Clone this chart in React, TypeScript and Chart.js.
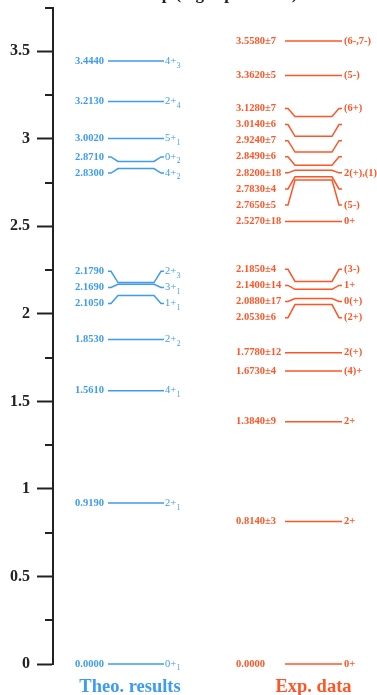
import React, { useEffect, useRef } from "react";
import { Chart, registerables } from "chart.js";

Chart.register(...registerables);

// ---------------- data ----------------
const theoEnergies = [0.0, 0.919, 1.561, 1.853, 2.105, 2.169, 2.179, 2.83, 2.871, 3.002, 3.213, 3.444];
const theoSpins = ["0+", "2+", "4+", "2+", "1+", "3+", "2+", "4+", "0+", "5+", "2+", "4+"];
const theoIndices = ["1", "1", "1", "2", "1", "1", "3", "2", "2", "1", "4", "3"];

const expEnergies = [0.0, 0.814, 1.384, 1.673, 1.778, 2.053, 2.088, 2.14, 2.185, 2.527, 2.765, 2.783, 2.82, 2.849, 2.924, 3.014, 3.128, 3.362, 3.558];
const expErrors = ["", "3", "9", "4", "12", "6", "17", "14", "4", "18", "5", "4", "18", "6", "7", "6", "7", "5", "7"];
const expSpins = ["0+", "2+", "2+", "(4)+", "2(+)", "(2+)", "0(+)", "1+", "(3-)", "0+", "(5-)", "", "2(+),(1)", "", "", "", "(6+)", "(5-)", "(6-,7-)"];

const yTickValues = [0, 0.5, 1, 1.5, 2, 2.5, 3, 3.5];
const groupNames = ["Theo. results", "Exp. data"];
const titleText = "Exp (high spin levels)";

// ---------------- style ----------------
const BLUE = "#3d9bf2";
const ORANGE = "#ff5526";
const AXIS = "#222222";
const SERIF = '"Liberation Serif", "DejaVu Serif", serif';
const LABEL_GAP = 0.092; // minimum label spacing (MeV)
const STUB = 3;
const SLANT = 7;
const THEO_X0 = 55;
const THEO_X1 = 111;
const EXP_X0 = 232;
const EXP_X1 = 289;

function spreadLabels(values: number[], gap: number): number[] {
  let clusters: number[][] = values.map((_, i) => [i]);
  const positions = (c: number[]) => {
    const m = c.reduce((s, i) => s + values[i], 0) / c.length;
    return c.map((_, k) => m + (k - (c.length - 1) / 2) * gap);
  };
  let changed = true;
  while (changed) {
    changed = false;
    for (let i = 0; i < clusters.length - 1; i++) {
      const pa = positions(clusters[i]);
      const pb = positions(clusters[i + 1]);
      if (pb[0] - pa[pa.length - 1] < gap - 1e-9) {
        clusters = [
          ...clusters.slice(0, i),
          [...clusters[i], ...clusters[i + 1]],
          ...clusters.slice(i + 2),
        ];
        changed = true;
        break;
      }
    }
  }
  const out = new Array(values.length).fill(0);
  clusters.forEach((c) => {
    const p = positions(c);
    c.forEach((idx, k) => (out[idx] = p[k]));
  });
  return out;
}

const theoLabelPos = spreadLabels(theoEnergies, LABEL_GAP);
const expLabelPos = spreadLabels(expEnergies, LABEL_GAP);

function levelPoints(e: number, ly: number, x0: number, x1: number) {
  return [
    { x: x0, y: ly },
    { x: x0 + STUB, y: ly },
    { x: x0 + STUB + SLANT, y: e },
    { x: x1 - STUB - SLANT, y: e },
    { x: x1 - STUB, y: ly },
    { x: x1, y: ly },
  ];
}

export default function App() {
  const ref = useRef<HTMLCanvasElement | null>(null);

  useEffect(() => {
    if (!ref.current) return;

    const datasets: any[] = [];
    theoEnergies.forEach((e, i) => {
      datasets.push({
        data: levelPoints(e, theoLabelPos[i], THEO_X0, THEO_X1),
        borderColor: BLUE,
        borderWidth: 1.5,
        pointRadius: 0,
        fill: false,
        tension: 0,
        clip: false,
      });
    });
    expEnergies.forEach((e, i) => {
      datasets.push({
        data: levelPoints(e, expLabelPos[i], EXP_X0, EXP_X1),
        borderColor: ORANGE,
        borderWidth: 1.5,
        pointRadius: 0,
        fill: false,
        tension: 0,
        clip: false,
      });
    });

    const isMajor = (v: number) => yTickValues.some((t) => Math.abs(t - v) < 1e-6);

    const labelPlugin = {
      id: "levelLabels",
      afterDatasetsDraw(chart: any) {
        const { ctx, scales } = chart;
        const xs = scales.x;
        const ys = scales.y;
        ctx.save();
        // minor ticks
        ctx.strokeStyle = AXIS;
        ctx.lineWidth = 2;
        ys.ticks.forEach((t: any) => {
          if (isMajor(t.value)) return;
          const py = Math.round(ys.getPixelForValue(t.value));
          ctx.beginPath();
          ctx.moveTo(chart.chartArea.left - 8, py);
          ctx.lineTo(chart.chartArea.left, py);
          ctx.stroke();
        });

        ctx.textBaseline = "middle";
        ctx.textAlign = "left";
        // theo labels
        theoEnergies.forEach((e, i) => {
          const py = ys.getPixelForValue(theoLabelPos[i]);
          ctx.fillStyle = BLUE;
          ctx.font = `bold 10.5px ${SERIF}`;
          ctx.fillText(e.toFixed(4), xs.getPixelForValue(THEO_X0 - 33), py);
          const rx = xs.getPixelForValue(THEO_X1 + 1);
          ctx.font = `10.5px ${SERIF}`;
          ctx.fillText(theoSpins[i], rx, py);
          const w = ctx.measureText(theoSpins[i]).width;
          ctx.font = `7.5px ${SERIF}`;
          ctx.fillText(theoIndices[i], rx + w + 0.5, py + 4.5);
        });
        // exp labels
        expEnergies.forEach((e, i) => {
          const py = ys.getPixelForValue(expLabelPos[i]);
          ctx.fillStyle = ORANGE;
          ctx.font = `bold 10.5px ${SERIF}`;
          const txt = e.toFixed(4) + (expErrors[i] ? "±" + expErrors[i] : "");
          ctx.fillText(txt, xs.getPixelForValue(EXP_X0 - 49), py);
          if (expSpins[i]) {
            ctx.font = `bold 10.5px ${SERIF}`;
            ctx.fillText(expSpins[i], xs.getPixelForValue(EXP_X1 + 2), py);
          }
        });

        // group names
        ctx.textAlign = "center";
        ctx.font = `bold 18.5px ${SERIF}`;
        ctx.fillStyle = BLUE;
        ctx.fillText(groupNames[0], xs.getPixelForValue((THEO_X0 + THEO_X1) / 2) - 6, 687);
        ctx.fillStyle = ORANGE;
        ctx.fillText(groupNames[1], xs.getPixelForValue((EXP_X0 + EXP_X1) / 2), 687);

        // title (clipped at top)
        ctx.fillStyle = AXIS;
        ctx.textAlign = "left";
        ctx.textBaseline = "alphabetic";
        ctx.font = `bold 17px ${SERIF}`;
        ctx.fillText(titleText, 142, -1.2);
        ctx.restore();
      },
    };

    const chart = new Chart(ref.current, {
      type: "line",
      data: { datasets },
      options: {
        animation: false,
        responsive: false,
        maintainAspectRatio: false,
        layout: { padding: { top: 7.5, bottom: 31, left: 0, right: 0 } },
        plugins: { legend: { display: false }, tooltip: { enabled: false }, title: { display: false } },
        elements: { point: { radius: 0 }, line: { capBezierPoints: false } },
        scales: {
          x: { type: "linear", min: 0, max: 324, display: false },
          y: {
            type: "linear",
            min: 0,
            max: 3.75,
            afterFit: (s: any) => {
              s.width = 53;
              s.paddingTop = 0;
              s.paddingBottom = 0;
            },
            ticks: {
              stepSize: 0.25,
              padding: 7,
              color: AXIS,
              font: { family: SERIF, size: 16, weight: "bold" },
              callback: (v: any) => (isMajor(Number(v)) ? String(Number(v)) : ""),
            },
            grid: {
              display: true,
              drawOnChartArea: false,
              drawTicks: true,
              tickLength: 16,
              tickWidth: 2,
              tickColor: (c: any) => (c.tick && isMajor(c.tick.value) ? AXIS : "rgba(0,0,0,0)"),
            },
            border: { display: true, color: AXIS, width: 2 },
          },
        },
      },
      plugins: [labelPlugin],
    });
    return () => chart.destroy();
  }, []);

  return (
    <div style={{ position: "absolute", left: 0, top: 0, width: 377, height: 695, background: "#fff" }}>
      <canvas ref={ref} width={377} height={695} style={{ width: 377, height: 695 }} />
    </div>
  );
}
